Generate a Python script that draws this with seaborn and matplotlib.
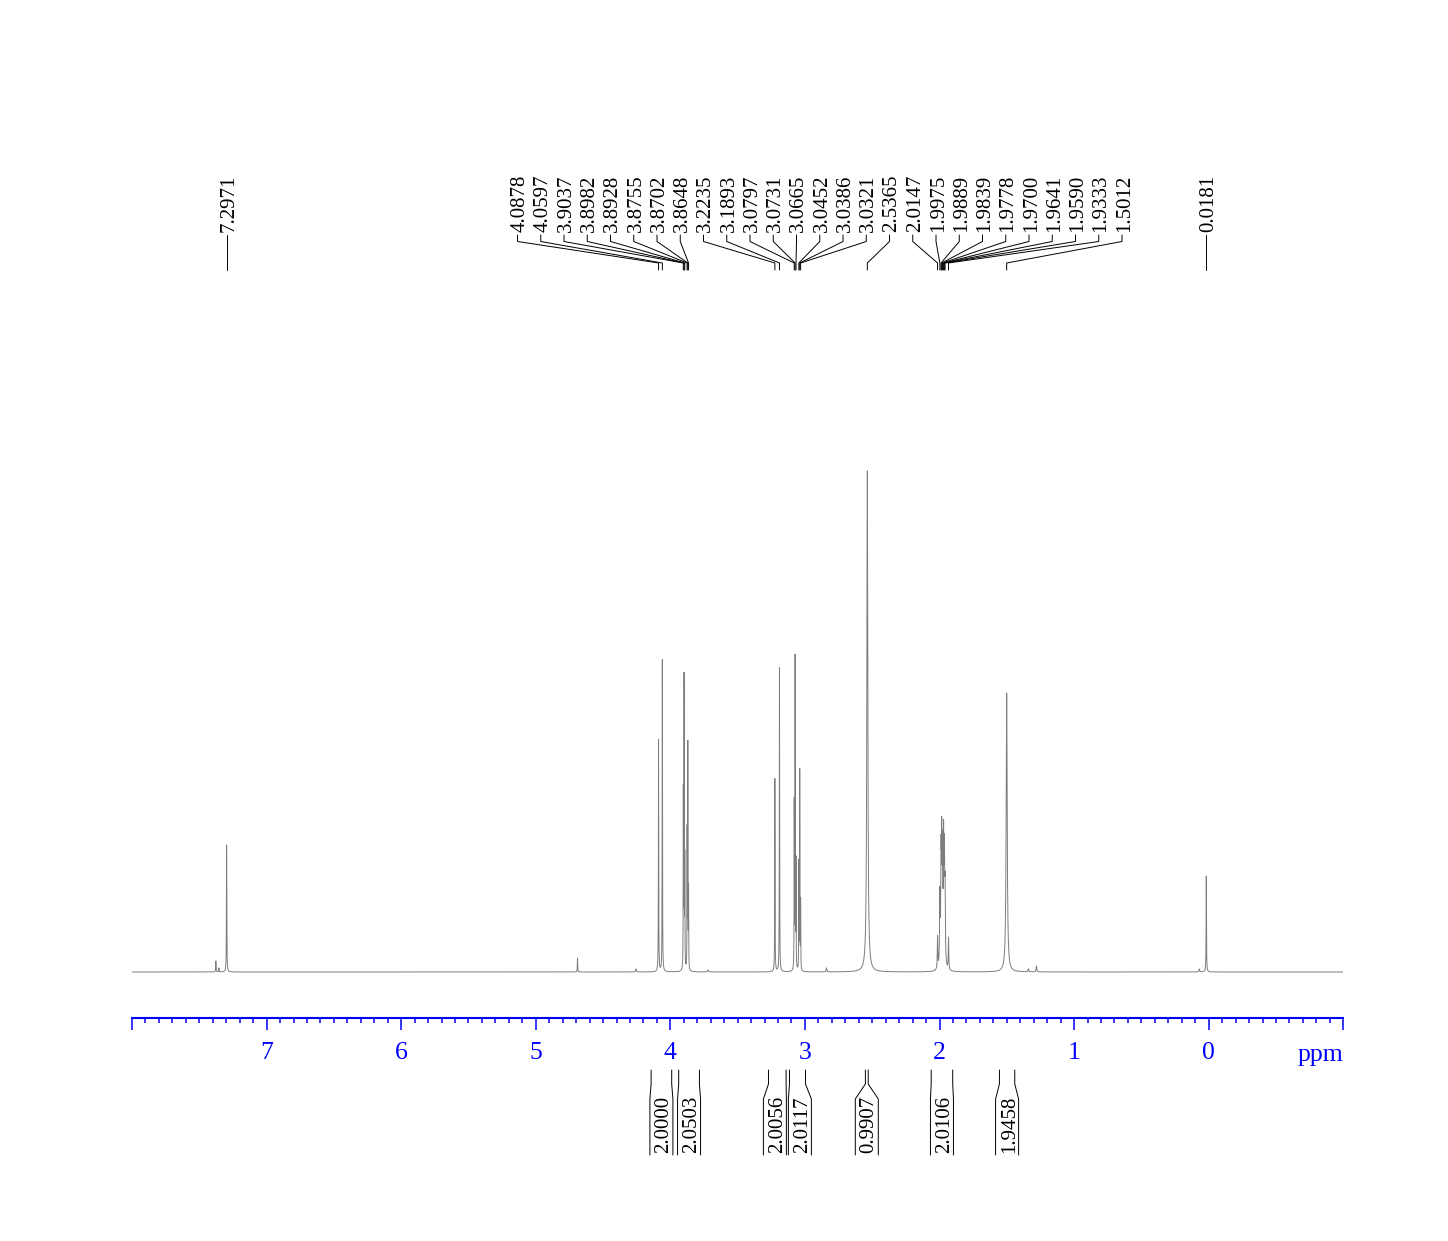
import numpy as np
import pandas as pd
import matplotlib
matplotlib.use("Agg")
import matplotlib.pyplot as plt
import matplotlib.transforms as mtransforms
from matplotlib.lines import Line2D
import seaborn as sns

# ---------------- data ----------------
# resolved lines of the 1H spectrum: position (ppm), height, half width (ppm)
peak_ppm = [7.377, 7.355, 7.2971, 4.690, 4.255, 3.720,
            4.0878, 4.0597,
            3.9037, 3.8982, 3.8928, 3.8755, 3.8702, 3.8648,
            3.2235, 3.1893,
            3.0797, 3.0731, 3.0665, 3.0452, 3.0386, 3.0321,
            2.840, 2.5365,
            2.0147, 1.9975, 1.9889, 1.9839, 1.9778, 1.9700, 1.9641, 1.9590, 1.9333,
            1.5012, 1.340, 1.280, 0.070, 0.0181]
peak_height = [11, 4, 127, 14, 3, 2,
               232, 312,
               175, 288, 108, 136, 222, 78,
               193, 304,
               165, 310, 106, 106, 198, 68,
               4, 501,
               32, 70, 100, 112, 105, 118, 100, 70, 32,
               279, 3, 6, 3, 96]
peak_hwhm = [0.0015, 0.0015, 0.0015, 0.0015, 0.003, 0.004,
             0.0013, 0.0013,
             0.0011, 0.0011, 0.0011, 0.0011, 0.0011, 0.0011,
             0.0013, 0.0013,
             0.0011, 0.0011, 0.0011, 0.0011, 0.0011, 0.0011,
             0.003, 0.0042,
             0.0022, 0.0025, 0.0025, 0.0025, 0.0025, 0.0025, 0.0025, 0.0025, 0.0022,
             0.0045, 0.003, 0.003, 0.003, 0.0015]

# peak-picking labels
label_ppm = [7.2971, 4.0878, 4.0597, 3.9037, 3.8982, 3.8928, 3.8755, 3.8702, 3.8648,
             3.2235, 3.1893, 3.0797, 3.0731, 3.0665, 3.0452, 3.0386, 3.0321,
             2.5365, 2.0147, 1.9975, 1.9889, 1.9839, 1.9778, 1.9700, 1.9641,
             1.9590, 1.9333, 1.5012, 0.0181]
label_text = ["%.4f" % v for v in label_ppm]

# integrals
int_start = [4.143, 3.938, 3.271, 3.115, 2.551, 2.062, 1.555]
int_end = [3.990, 3.784, 3.140, 2.996, 2.530, 1.902, 1.441]
int_value = ["2.0000", "2.0503", "2.0056", "2.0117", "0.9907", "2.0106", "1.9458"]

# axis
major_ticks = [8, 7, 6, 5, 4, 3, 2, 1, 0, -1]
major_labels = ["", "7", "6", "5", "4", "3", "2", "1", "0", ""]
x_range = (8.0, -1.0)

# ---------------- figure ----------------
W, H = 1448, 1241
sns.set_style("white")
plt.rcParams["font.family"] = ["Liberation Serif", "DejaVu Serif"]
plt.rcParams["xtick.bottom"] = True
plt.rcParams["xtick.minor.bottom"] = True

fig = plt.figure(figsize=(W / 100, H / 100), dpi=100)
fig.patch.set_facecolor("white")


def fx(px):
    return px / W


def fy(py):
    return 1 - py / H


ax = fig.add_axes([fx(132), fy(1018), fx(1343.3) - fx(132), fy(280) - fy(1018)])
ax.set_facecolor("none")

grid = np.linspace(x_range[0], x_range[1], 150001)
inten = np.zeros_like(grid)
for p, h, g in zip(peak_ppm, peak_height, peak_hwhm):
    inten += h * g ** 2 / ((grid - p) ** 2 + g ** 2)
df = pd.DataFrame({"ppm": grid, "intensity": inten})
sns.lineplot(data=df, x="ppm", y="intensity", ax=ax, color="#7d7d7d",
             linewidth=0.7, estimator=None, sort=False)

ax.set_xlim(*x_range)
ax.set_ylim(-46, 692)
ax.set_xlabel("")
ax.set_ylabel("")
ax.set_yticks([])
for s in ["left", "right", "top"]:
    ax.spines[s].set_visible(False)
ax.spines["bottom"].set_color("blue")
ax.spines["bottom"].set_linewidth(1.5)
ax.set_xticks(major_ticks)
ax.set_xticklabels(major_labels)
ax.set_xticks(np.arange(-1.0, 8.0001, 0.1), minor=True)
ax.tick_params(axis="x", which="both", bottom=True, top=False)
ax.tick_params(axis="x", which="major", direction="out", length=8.6, width=1.1,
               color="blue", labelcolor="blue", labelsize=18.5, pad=8.5)
ax.tick_params(axis="x", which="minor", direction="out", length=3.4, width=1.1,
               color="blue")
ax.grid(False)

blend = mtransforms.blended_transform_factory(ax.transData, fig.transFigure)
ax.text(x_range[1], fy(1061), "ppm", transform=blend, ha="right", va="baseline",
        fontsize=18.5, color="blue")


def to_px(ppm):
    return ax.transData.transform((ppm, 0))[0]


def line(xs, ys, lw=0.7):
    fig.add_artist(Line2D([fx(v) for v in xs], [fy(v) for v in ys],
                          color="black", linewidth=lw, transform=fig.transFigure))


# ---- peak labels: spread in clusters ----
label_fs = 15
cap = 0.66 * label_fs * 100 / 72
step = 23.25
pk_px = [to_px(v) for v in label_ppm]
order = np.argsort(pk_px)
clusters = [[i] for i in order]
changed = True
while changed:
    changed = False
    pos = []
    for c in clusters:
        ctr = np.mean([pk_px[i] for i in c])
        pos.append((ctr - (len(c) - 1) * step / 2, ctr + (len(c) - 1) * step / 2))
    for k in range(len(clusters) - 1):
        if pos[k][1] + step > pos[k + 1][0]:
            clusters[k] = clusters[k] + clusters[k + 1]
            del clusters[k + 1]
            changed = True
            break
lab_px = {}
for c in clusters:
    c_sorted = sorted(c, key=lambda i: pk_px[i])
    ctr = np.mean([pk_px[i] for i in c])
    for j, i in enumerate(c_sorted):
        lab_px[i] = ctr + (j - (len(c) - 1) / 2) * step

for i, txt in enumerate(label_text):
    lx, px = lab_px[i], pk_px[i]
    fig.text(fx(lx + cap / 2), fy(232), txt, rotation=90, rotation_mode="anchor",
             ha="left", va="baseline", fontsize=label_fs, color="black")
    line([lx, lx, px, px], [235, 241.5, 263, 270])

# ---- integrals ----
half_min = 11.5
gap = 2.0
ints = sorted(range(len(int_value)), key=lambda i: to_px(int_start[i]))
tops = [(to_px(int_start[i]), to_px(int_end[i])) for i in ints]
bots = []
for l, r in tops:
    c = (l + r) / 2
    hw = max((r - l) / 2, half_min)
    bots.append([c - hw, c + hw])
for k in range(len(bots) - 1):
    over = bots[k][1] + gap - bots[k + 1][0]
    if over > 0:
        bots[k][0] -= over / 2
        bots[k][1] -= over / 2
        bots[k + 1][0] += over / 2
        bots[k + 1][1] += over / 2
for k, i in enumerate(ints):
    (tl, tr), (bl, br) = tops[k], bots[k]
    line([tl, tl, bl, bl], [1070, 1084, 1099, 1155])
    line([tr, tr, br, br], [1070, 1084, 1099, 1155])
    cx = (bl + br) / 2
    fig.text(fx(cx + cap / 2), fy(1153), int_value[i], rotation=90,
             rotation_mode="anchor", ha="left", va="baseline",
             fontsize=label_fs, color="black")

fig.savefig("out.png", dpi=100, facecolor="white")
